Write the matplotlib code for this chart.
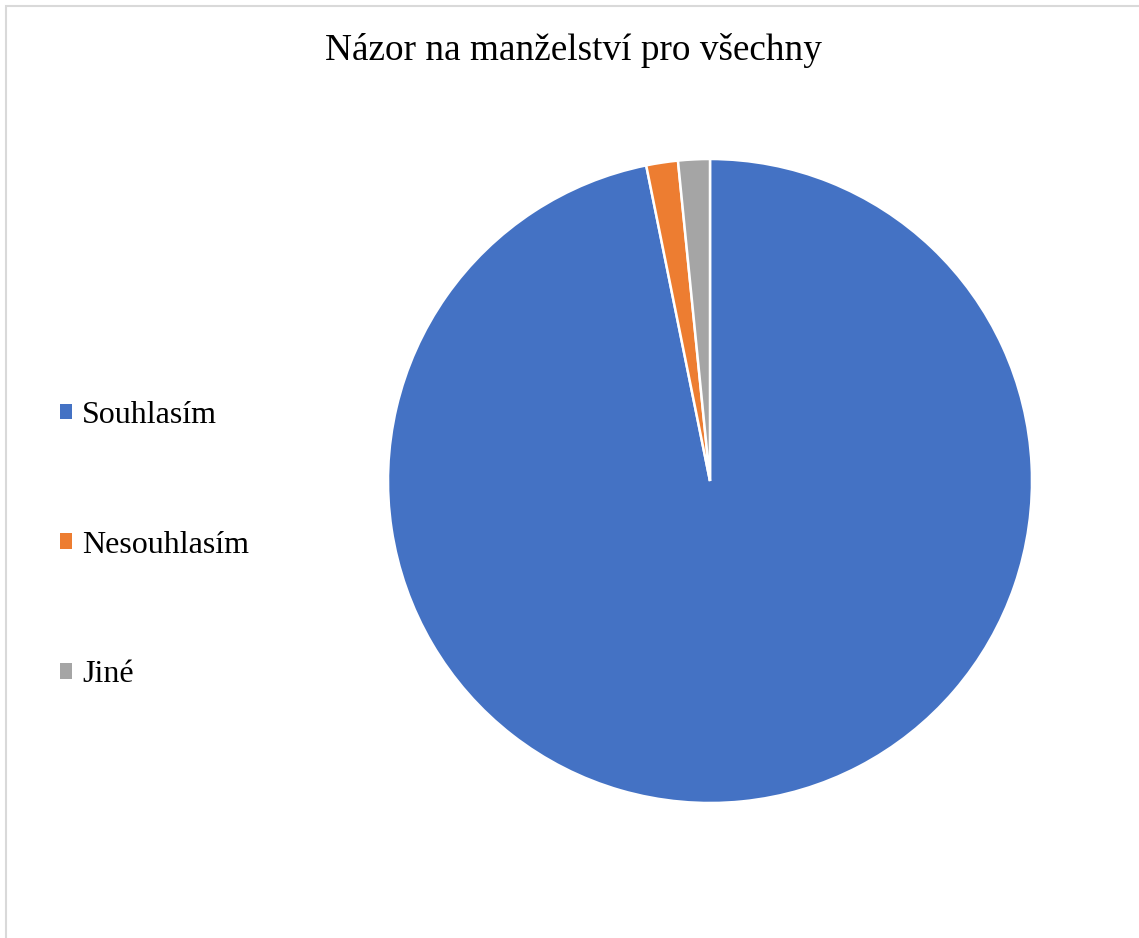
import matplotlib.pyplot as plt
from matplotlib.patches import Patch, Rectangle

plt.rcParams['font.family'] = ['Liberation Serif', 'DejaVu Serif']

# data
labels = ['Souhlasím', 'Nesouhlasím', 'Jiné']
values = [61, 1, 1]
colors = ['#4472C4', '#ED7D31', '#A5A5A5']

W, H = 1139, 938
fig = plt.figure(figsize=(W / 100, H / 100), dpi=100)

# light frame round the chart area
fig.patches.append(Rectangle((6 / W, -0.01), 1.02, 1 - 6 / H + 0.01,
                             transform=fig.transFigure, fill=False,
                             edgecolor='#D9D9D9', linewidth=1.5))

# pie placement (px)
cx, cy, r = 710, 481, 322
ax = fig.add_axes([(cx - r) / W, (H - cy - r) / H, 2 * r / W, 2 * r / H])
wedges, _ = ax.pie(values, colors=colors, startangle=90, counterclock=False,
                   radius=1, wedgeprops=dict(edgecolor='white', linewidth=1.8))
ax.set_xlim(-1, 1)
ax.set_ylim(-1, 1)
ax.set_aspect('equal')
ax.axis('off')

fig.text(573 / W, 1 - 51 / H, 'Názor na manželství pro všechny',
         ha='center', va='center', fontsize=26.8)

handles = [Patch(facecolor=c, edgecolor='none') for c in colors]
fig.legend(handles, labels, loc='center left', bbox_to_anchor=(47 / W, 1 - 545 / H),
           frameon=False, fontsize=23, handlelength=0.38, handleheight=0.38,
           handletextpad=0.31, labelspacing=3.15, borderaxespad=0)

fig.savefig('out.png', dpi=100)
